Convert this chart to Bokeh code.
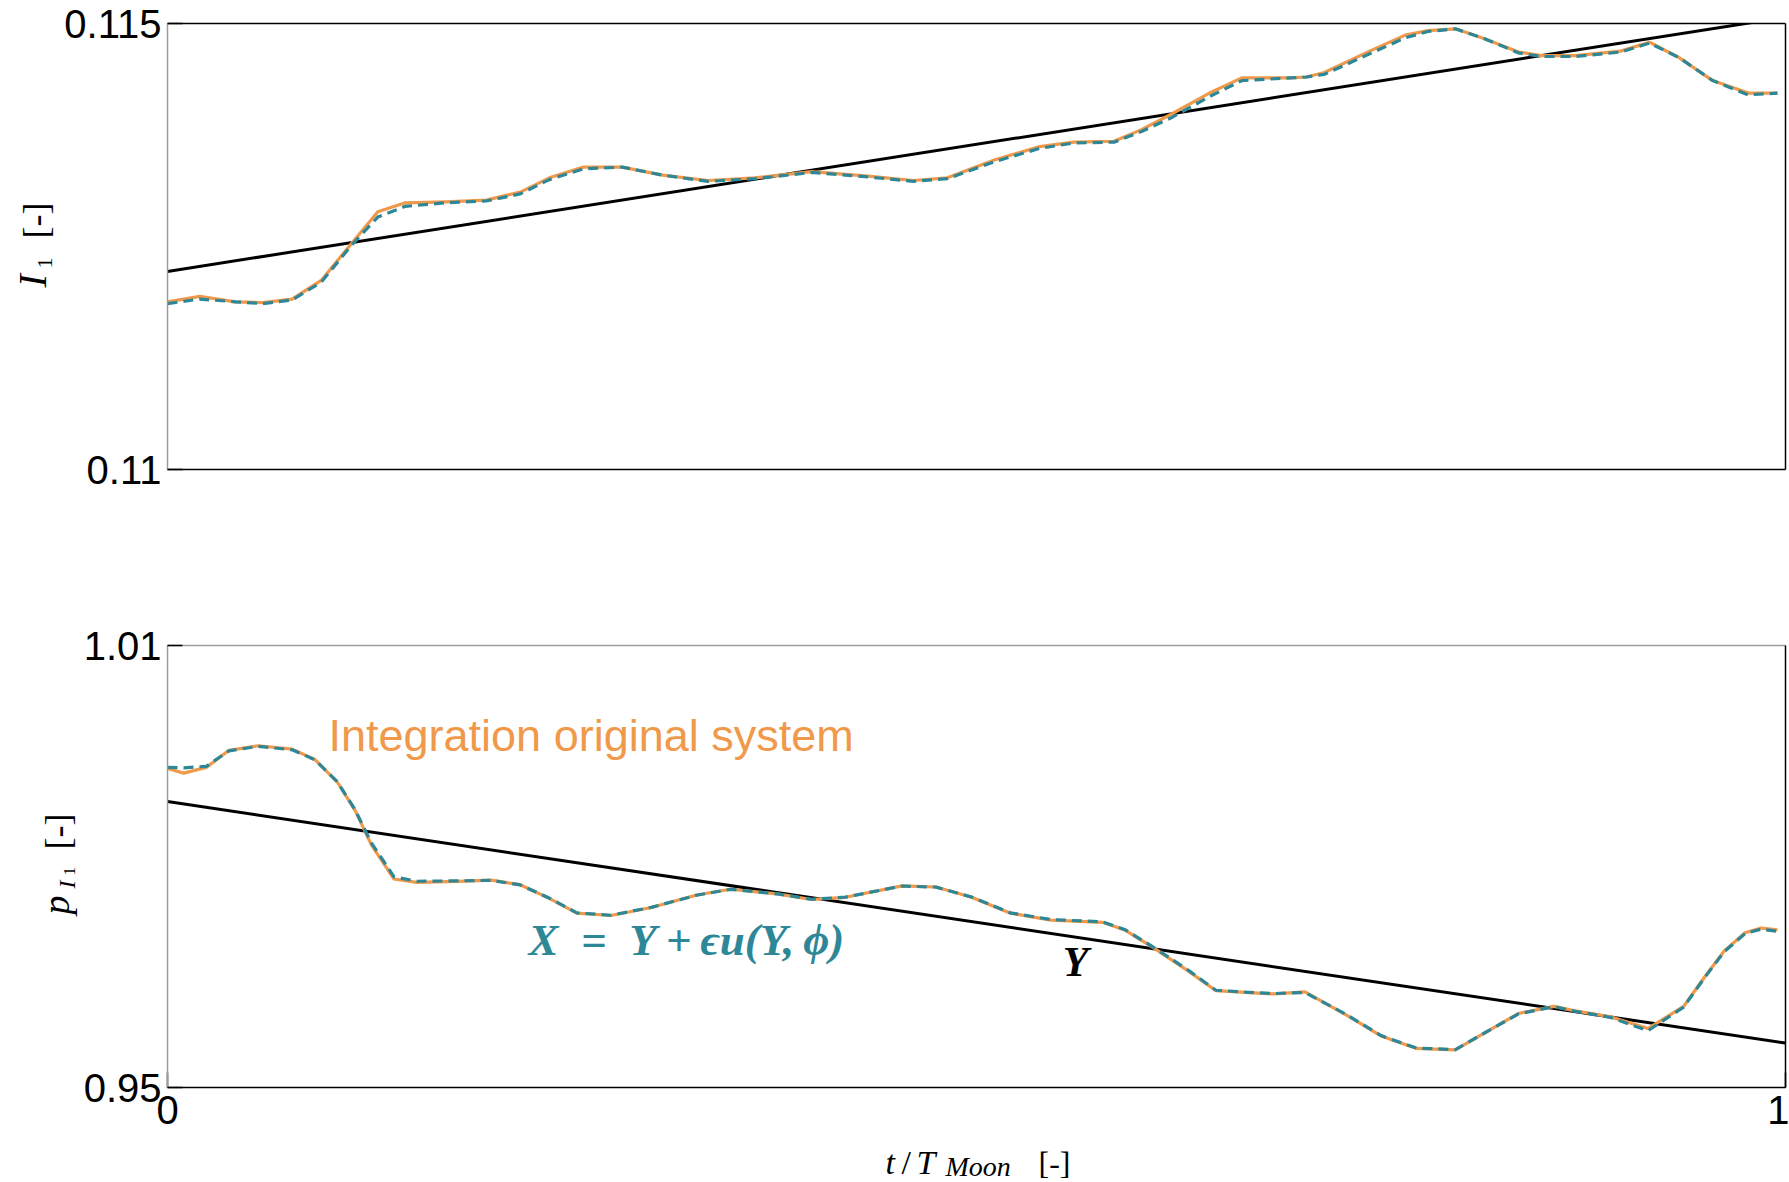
import math
from bokeh.plotting import figure
from bokeh.models import LinearAxis, FixedTicker, Range1d
from bokeh.layouts import column, row
from bokeh.embed import file_html
from bokeh.resources import INLINE
from bokeh.core.properties import value

# ---------------- data ----------------
# top panel: I_1 [-] versus t / T_Moon
t_top = [0.000, 0.020, 0.042, 0.059, 0.077, 0.095, 0.114, 0.130, 0.147, 0.172,
         0.197, 0.218, 0.236, 0.257, 0.281, 0.306, 0.334, 0.363, 0.398, 0.433,
         0.461, 0.482, 0.511, 0.539, 0.560, 0.585, 0.602, 0.620, 0.633, 0.645,
         0.664, 0.694, 0.704, 0.715, 0.743, 0.765, 0.779, 0.796, 0.814, 0.835,
         0.849, 0.870, 0.898, 0.916, 0.934, 0.955, 0.977, 0.995]
I1_original = [0.11188, 0.11194, 0.11188, 0.11187, 0.11191, 0.11212, 0.11254, 0.11289, 0.11299, 0.11300,
               0.11302, 0.11311, 0.11327, 0.11339, 0.11339, 0.11330, 0.11324, 0.11327, 0.11334, 0.11329,
               0.11324, 0.11327, 0.11347, 0.11362, 0.11367, 0.11368, 0.11381, 0.11398, 0.11411, 0.11423,
               0.11439, 0.11439, 0.11440, 0.11445, 0.11469, 0.11487, 0.11492, 0.11494, 0.11483, 0.11468,
               0.11464, 0.11464, 0.11469, 0.11479, 0.11462, 0.11436, 0.11422, 0.11422]
I1_transformed = [0.11186, 0.11191, 0.11188, 0.11186, 0.11190, 0.11210, 0.11252, 0.11283, 0.11295, 0.11299,
                  0.11301, 0.11309, 0.11325, 0.11337, 0.11339, 0.11330, 0.11323, 0.11326, 0.11333, 0.11328,
                  0.11323, 0.11326, 0.11345, 0.11360, 0.11366, 0.11367, 0.11379, 0.11394, 0.11407, 0.11419,
                  0.11436, 0.11439, 0.11440, 0.11443, 0.11466, 0.11484, 0.11491, 0.11494, 0.11483, 0.11467,
                  0.11463, 0.11463, 0.11468, 0.11478, 0.11462, 0.11436, 0.11420, 0.11422]

# bottom panel: p_I1 [-] versus t / T_Moon
t_bot = [0.000, 0.010, 0.024, 0.038, 0.056, 0.077, 0.091, 0.105, 0.116, 0.126,
         0.140, 0.154, 0.179, 0.200, 0.218, 0.236, 0.253, 0.274, 0.299, 0.327,
         0.348, 0.377, 0.398, 0.419, 0.454, 0.475, 0.497, 0.521, 0.546, 0.578,
         0.592, 0.609, 0.631, 0.648, 0.666, 0.684, 0.703, 0.729, 0.750, 0.772,
         0.796, 0.814, 0.835, 0.857, 0.870, 0.892, 0.915, 0.937, 0.950, 0.962,
         0.975, 0.985, 0.995]
pI1_original = [0.99330, 0.99268, 0.99345, 0.99577, 0.99639, 0.99593, 0.99454, 0.99144, 0.98758, 0.98294,
                0.97830, 0.97784, 0.97799, 0.97814, 0.97753, 0.97567, 0.97366, 0.97335, 0.97443, 0.97613,
                0.97691, 0.97629, 0.97552, 0.97582, 0.97737, 0.97722, 0.97582, 0.97366, 0.97273, 0.97242,
                0.97134, 0.96902, 0.96580, 0.96314, 0.96290, 0.96270, 0.96299, 0.95980, 0.95700, 0.95530,
                0.95510, 0.95742, 0.96005, 0.96101, 0.96040, 0.95959, 0.95800, 0.96100, 0.96500, 0.96850,
                0.97100, 0.97165, 0.97140]
pI1_transformed = [0.99345, 0.99340, 0.99360, 0.99570, 0.99630, 0.99585, 0.99450, 0.99150, 0.98770, 0.98320,
                   0.97860, 0.97800, 0.97805, 0.97812, 0.97750, 0.97570, 0.97370, 0.97338, 0.97445, 0.97610,
                   0.97690, 0.97628, 0.97555, 0.97584, 0.97735, 0.97720, 0.97585, 0.97370, 0.97280, 0.97248,
                   0.97140, 0.96910, 0.96590, 0.96320, 0.96295, 0.96275, 0.96290, 0.95985, 0.95705, 0.95535,
                   0.95515, 0.95740, 0.96000, 0.96098, 0.96035, 0.95950, 0.95770, 0.96090, 0.96490, 0.96840,
                   0.97090, 0.97150, 0.97120]

# mean (averaged) solution Y: straight lines
t_mean = [0.0, 1.0]
I1_mean = [0.11222, 0.11507]
pI1_mean = [0.98881, 0.95603]

x_ticks = [0, 1]
top_y_ticks = [0.11, 0.115]
top_y_tick_labels = {0.11: "0.11", 0.115: "0.115"}
bot_y_ticks = [0.95, 1.01]
bot_y_tick_labels = {0.95: "0.95", 1.01: "1.01"}

label_orig = "Integration original system"
label_transf = "X\u2002=\u2002Y\u2009+\u2009\u03f5u(Y,\u2009\u03d5)"
label_mean = "Y"

ORANGE = "#F0994B"
TEAL = "#2E8797"
GRAY = "#9c9c9c"
SANS = "Liberation Sans"
SERIF = "Liberation Serif"

W = 1789
FRAME_W = 1618
FRAME_LEFT = 167
TOP_FRAME = (23, 469)      # page y of top panel frame (top, bottom)
BOT_FRAME = (645, 1087)    # page y of bottom panel frame (top, bottom)
TOP_H = 549
BOT_BORDER = 55
BOT_H = 96 + 442 + BOT_BORDER
XLAB_H = 1182 - TOP_H - BOT_H
YLAB_TOP_W = 57
YLAB_BOT_W = 80


def make_fig(y0, y1, frame_h, left_b, top_b, bot_b):
    p = figure(frame_width=FRAME_W, frame_height=frame_h,
               x_range=Range1d(0, 1), y_range=Range1d(y0, y1),
               min_border_left=left_b, min_border_right=4,
               min_border_top=top_b, min_border_bottom=bot_b,
               output_backend="svg", toolbar_location=None,
               background_fill_color="white", border_fill_color="white")
    p.outline_line_color = None
    p.xgrid.visible = False
    p.ygrid.visible = False
    return p


def style_axis(ax, ticks, color, overrides=None, standoff=6):
    ax.ticker = FixedTicker(ticks=ticks)
    ax.axis_line_color = color
    ax.axis_line_width = 1.5
    ax.major_tick_in = 15
    ax.major_tick_out = 0
    ax.major_tick_line_color = "black"
    ax.major_tick_line_width = 1.5
    ax.minor_tick_line_color = None
    ax.major_label_text_font = SANS
    ax.major_label_text_font_size = "40px"
    ax.major_label_text_color = "black"
    ax.major_label_standoff = standoff
    if overrides:
        ax.major_label_overrides = overrides


def add_frame_axes(p, top_color):
    right = LinearAxis(ticker=FixedTicker(ticks=[]), axis_line_color="black",
                       axis_line_width=1.5, major_tick_line_color=None,
                       minor_tick_line_color=None)
    above = LinearAxis(ticker=FixedTicker(ticks=[]), axis_line_color=top_color,
                       axis_line_width=1.5, major_tick_line_color=None,
                       minor_tick_line_color=None)
    p.add_layout(right, "right")
    p.add_layout(above, "above")


def aux_fig(w, h, yspan):
    # the frame of an aux figure in a row is aligned with its neighbour's frame
    f = figure(width=w, height=h, x_range=Range1d(0, w), y_range=Range1d(0, yspan),
               min_border=0, x_axis_type=None, y_axis_type=None,
               toolbar_location=None, output_backend="svg",
               background_fill_color="white", border_fill_color="white")
    f.outline_line_color = None
    return f


def piece(f, x, y, text, size, style="normal", font=SERIF, angle=0.0, color="black"):
    f.text(x=[x], y=[y], text=[text], angle=angle,
           text_font=value(font), text_font_size=value(f"{size}px"),
           text_font_style=style, text_color=color,
           text_align="left", text_baseline="middle")


R = math.pi / 2

# ---------------- top panel ----------------
top = make_fig(0.11, 0.115, 446, FRAME_LEFT - YLAB_TOP_W, 23, TOP_H - 23 - 446)
style_axis(top.yaxis[0], top_y_ticks, GRAY, top_y_tick_labels)
style_axis(top.xaxis[0], [], "black")
add_frame_axes(top, "black")

top.line(t_mean, I1_mean, line_color="black", line_width=3)
top.line(t_top, I1_original, line_color=ORANGE, line_width=3.2, line_join="round")
top.line(t_top, I1_transformed, line_color=TEAL, line_width=3.2, line_dash="10 6")

tb = TOP_FRAME[1]
ylab_top = aux_fig(YLAB_TOP_W, TOP_H, TOP_FRAME[1] - TOP_FRAME[0])
piece(ylab_top, 32, tb - 287, "I", 40, "italic", angle=R)
piece(ylab_top, 44, tb - 268, "1", 22, angle=R)
piece(ylab_top, 35, tb - 238, "[-]", 36, angle=R)

# ---------------- bottom panel ----------------
bot = make_fig(0.95, 1.01, 442, FRAME_LEFT - YLAB_BOT_W, 96, BOT_BORDER)
style_axis(bot.yaxis[0], bot_y_ticks, GRAY, bot_y_tick_labels)
style_axis(bot.xaxis[0], x_ticks, "black", standoff=8)
add_frame_axes(bot, GRAY)

bot.line(t_mean, pI1_mean, line_color="black", line_width=3)
bot.line(t_bot, pI1_original, line_color=ORANGE, line_width=3.2, line_join="round")
bot.line(t_bot, pI1_transformed, line_color=TEAL, line_width=3.2, line_dash="10 6")

bot.text(x=[0.0995], y=[0.99778], text=[label_orig], text_font=value(SANS),
         text_font_size=value("45px"), text_color=ORANGE,
         text_align="left", text_baseline="middle")
bot.text(x=[0.2231], y=[0.96996], text=[label_transf], text_font=value(SERIF),
         text_font_size=value("45px"), text_font_style="bold italic",
         text_color=TEAL, text_align="left", text_baseline="middle")
bot.text(x=[0.5612], y=[0.96697], text=[label_mean], text_font=value(SERIF),
         text_font_size=value("42px"), text_font_style="bold italic",
         text_color="black", text_align="center", text_baseline="middle")

bb = BOT_FRAME[1]
ylab_bot = aux_fig(YLAB_BOT_W, BOT_H, BOT_FRAME[1] - BOT_FRAME[0])
piece(ylab_bot, 55, bb - 914, "p", 38, "italic", angle=R)
piece(ylab_bot, 66, bb - 888, "I", 24, "italic", angle=R)
piece(ylab_bot, 69, bb - 875, "1", 17, angle=R)
piece(ylab_bot, 57, bb - 849, "[-]", 36, angle=R)

# ---------------- x-axis title ----------------
xlab = aux_fig(W, XLAB_H, XLAB_H)
piece(xlab, 885, 1182 - 1162, "t", 34, "italic")
piece(xlab, 901, 1182 - 1162, "/", 34)
piece(xlab, 916, 1182 - 1162, "T", 34, "italic")
piece(xlab, 945, 1182 - 1166, "Moon", 28, "italic")
piece(xlab, 1038, 1182 - 1162, "[-]", 32)

layout = column(row(ylab_top, top, spacing=0),
                row(ylab_bot, bot, spacing=0),
                xlab, spacing=0)
open("out.html", "w").write(file_html(layout, INLINE))
